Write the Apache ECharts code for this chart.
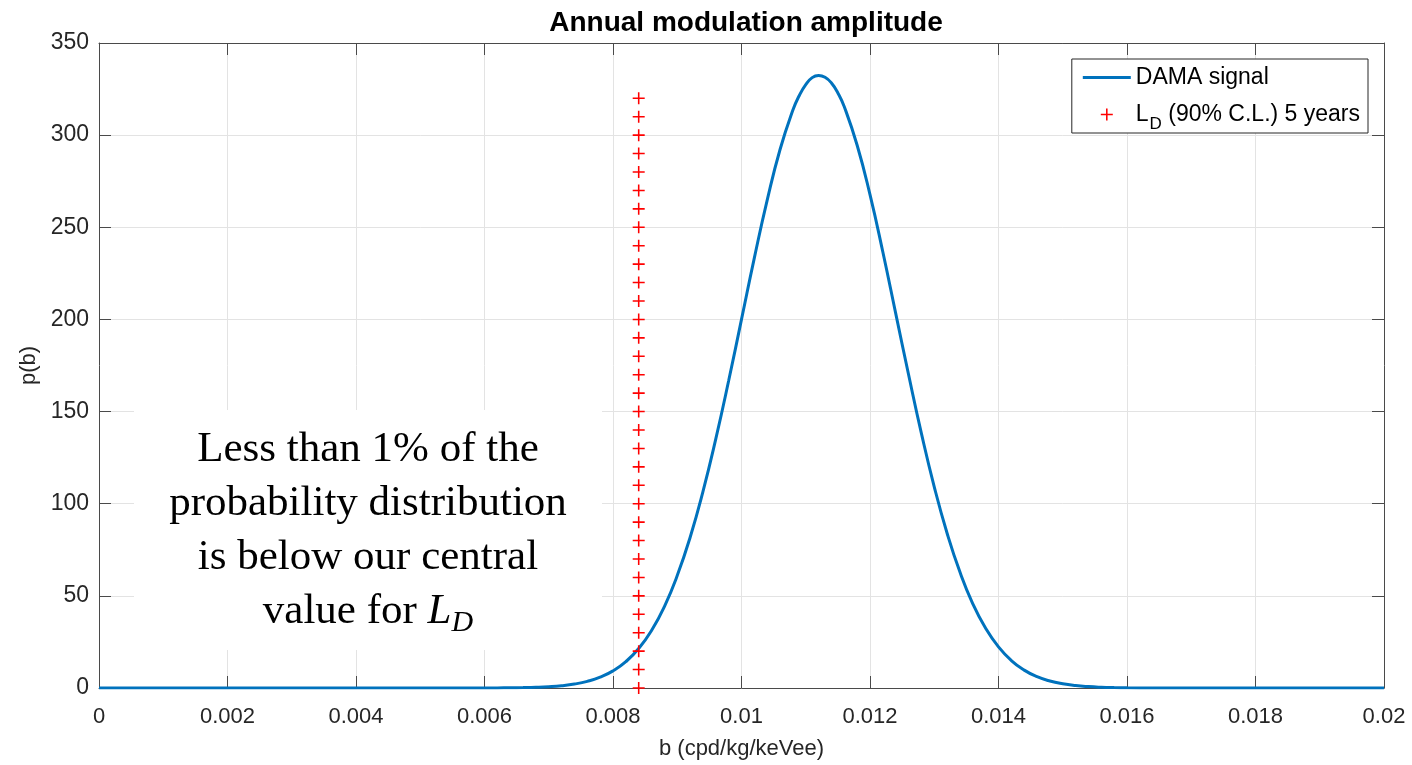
<!DOCTYPE html>
<html>
<head>
<meta charset="utf-8">
<script src="https://cdn.jsdelivr.net/npm/echarts@6/dist/echarts.min.js"></script>
<style>
html,body{margin:0;padding:0;background:#fff;}
#chart{width:1412px;height:765px;}
</style>
</head>
<body>
<div id="chart"></div>
<script>
// ---- data ----
const titleText = 'Annual modulation amplitude';
const xAxisName = 'b (cpd/kg/keVee)';
const yAxisName = 'p(b)';
const seriesNames = ['DAMA signal', 'L_D (90% C.L.) 5 years'];

// DAMA signal curve: b values and p(b) values
const bValues = [0, 0.002, 0.004, 0.005, 0.0055, 0.0060, 0.0062, 0.0064, 0.0066, 0.0068, 0.0070, 0.0072, 0.0074, 0.0076, 0.0078,
  0.0080, 0.0082, 0.0084, 0.0086, 0.0088, 0.0090, 0.0092, 0.0094, 0.0096, 0.0098,
  0.0100, 0.0102, 0.0104, 0.0106, 0.0108, 0.0109, 0.0110, 0.0111, 0.0112, 0.0113, 0.0114, 0.0115, 0.0116, 0.0118,
  0.0120, 0.0122, 0.0124, 0.0126, 0.0128, 0.0130, 0.0132, 0.0134, 0.0136, 0.0138,
  0.0140, 0.0142, 0.0144, 0.0146, 0.0148, 0.0150, 0.0152, 0.0154, 0.0156, 0.0158,
  0.0160, 0.0164, 0.0170, 0.0180, 0.0200];
const pValues = [0, 0, 0, 0, 0.003, 0.027, 0.055, 0.11, 0.21, 0.39, 0.71, 1.25, 2.15, 3.6, 5.86,
  9.28, 14.3, 21.4, 31.2, 44.2, 61.0, 81.7, 106.6, 135.2, 166.7,
  200.0, 233.4, 264.7, 292.2, 313.6, 321.5, 327.4, 331.2, 332.4, 331.4, 328.3, 322.9, 315.4, 294.5,
  267.7, 236.6, 203.3, 170.1, 138.2, 109.2, 84.0, 62.9, 45.7, 32.4,
  22.3, 14.9, 9.71, 6.15, 3.78, 2.27, 1.32, 0.75, 0.41, 0.22,
  0.115, 0.03, 0.002, 0, 0];

// L_D markers (vertical column of crosses)
const ldValue = 0.0084;
const ldMarkerHeights = [0, 10, 20, 30, 40, 50, 60, 70, 80, 90, 100, 110, 120, 130, 140, 150, 160,
  170, 180, 190, 200, 210, 220, 230, 240, 250, 260, 270, 280, 290, 300, 310, 320];

// axis ticks
const xTicks = [0, 0.002, 0.004, 0.006, 0.008, 0.01, 0.012, 0.014, 0.016, 0.018, 0.02];
const yTicks = [0, 50, 100, 150, 200, 250, 300, 350];

const annotationLines = ['Less than 1% of the', 'probability distribution', 'is below our central', 'value for '];

// ---- chart ----
const axisColor = '#4a4a4a';
const textColor = '#262626';
const gridColor = '#e3e3e3';
const sansFont = '"Liberation Sans", Arial, Helvetica, sans-serif';
const serifFont = '"Liberation Serif", "Times New Roman", serif';
const plusPath = 'path://M4.35,0h1.3v10h-1.3z M0,4.35h10v1.3h-10z';

const curveData = bValues.map((b, i) => [b, pValues[i]]);
const ldData = ldMarkerHeights.map(h => [ldValue, h]);

const fmtX = v => {
  const hit = xTicks.find(t => Math.abs(t - v) < 1e-9);
  return hit === undefined ? '' : String(hit);
};

const chart = echarts.init(document.getElementById('chart'), null, {renderer: 'canvas'});
chart.setOption({
  animation: false,
  backgroundColor: '#ffffff',
  title: {
    text: titleText,
    left: 741,
    textAlign: 'center',
    top: 4,
    textStyle: {fontFamily: sansFont, fontSize: 28, fontWeight: 'bold', color: '#000'}
  },
  grid: {left: 99, right: 28, top: 43, bottom: 77, containLabel: false},
  legend: {
    orient: 'vertical',
    right: 44,
    top: 59,
    padding: [7, 8, 0, 11],
    itemGap: 14,
    itemWidth: 48,
    itemHeight: 12,
    backgroundColor: '#ffffff',
    borderColor: '#262626',
    borderWidth: 1,
    borderRadius: 0,
    z: 10,
    data: [
      {name: seriesNames[0], icon: 'path://M0,0h48v3h-48z', itemStyle: {color: '#0072BD'}},
      {name: seriesNames[1], icon: plusPath, itemStyle: {color: '#ff0000'}}
    ],
    formatter: function (name) {
      if (name === seriesNames[0]) return '{n|' + name + '}';
      return '{n|L}{s|D}{n| (90% C.L.) 5 years}';
    },
    textStyle: {
      fontFamily: sansFont, fontSize: 23, color: '#000',
      rich: {
        n: {fontFamily: sansFont, fontSize: 23, color: '#000', lineHeight: 26},
        s: {fontFamily: sansFont, fontSize: 17, color: '#000', padding: [20, 0, 0, 1]}
      }
    }
  },
  xAxis: [{
    type: 'value', min: 0, max: 0.02, interval: 0.002, position: 'bottom',
    name: xAxisName, nameLocation: 'middle', nameGap: 50,
    nameTextStyle: {fontFamily: sansFont, fontSize: 22, color: textColor},
    axisLine: {show: true, onZero: false, lineStyle: {color: axisColor, width: 1}},
    axisTick: {show: true, inside: true, length: 12, lineStyle: {color: axisColor}},
    axisLabel: {show: true, margin: 18, fontFamily: sansFont, fontSize: 22, color: textColor, formatter: fmtX},
    splitLine: {show: true, lineStyle: {color: gridColor, width: 1}}
  }, {
    type: 'value', min: 0, max: 0.02, interval: 0.002, position: 'top',
    axisLine: {show: true, onZero: false, lineStyle: {color: axisColor, width: 1}},
    axisTick: {show: true, inside: true, length: 12, lineStyle: {color: axisColor}},
    axisLabel: {show: false},
    splitLine: {show: false}
  }],
  yAxis: [{
    type: 'value', min: 0, max: 350, interval: 50, position: 'left',
    name: yAxisName, nameLocation: 'middle', nameGap: 52,
    nameTextStyle: {fontFamily: sansFont, fontSize: 22, color: textColor},
    axisLine: {show: true, onZero: false, lineStyle: {color: axisColor, width: 1}},
    axisTick: {show: true, inside: true, length: 12, lineStyle: {color: axisColor}},
    axisLabel: {show: true, margin: 10, fontFamily: sansFont, fontSize: 23, color: textColor,
      formatter: v => yTicks.indexOf(v) >= 0 ? String(v) : ''},
    splitLine: {show: true, lineStyle: {color: gridColor, width: 1}}
  }, {
    type: 'value', min: 0, max: 350, interval: 50, position: 'right',
    axisLine: {show: true, onZero: false, lineStyle: {color: axisColor, width: 1}},
    axisTick: {show: true, inside: true, length: 12, lineStyle: {color: axisColor}},
    axisLabel: {show: false},
    splitLine: {show: false}
  }],
  graphic: [{
    type: 'group',
    z: 1,
    children: [{
      type: 'rect',
      shape: {x: 134, y: 410, width: 468, height: 240},
      style: {fill: '#ffffff'},
      z: 1
    }, {
      type: 'text',
      x: 368,
      y: 531,
      z: 1,
      style: {
        text: '{a|' + annotationLines[0] + '}\n{a|' + annotationLines[1] + '}\n{a|' + annotationLines[2] + '}\n{a|' + annotationLines[3] + '}{i|L}{d|D}',
        align: 'center',
        verticalAlign: 'middle',
        fill: '#000',
        rich: {
          a: {fontFamily: serifFont, fontSize: 43, lineHeight: 54, fill: '#000'},
          i: {fontFamily: serifFont, fontStyle: 'italic', fontSize: 43, lineHeight: 54, fill: '#000'},
          d: {fontFamily: serifFont, fontStyle: 'italic', fontSize: 30, padding: [22, 0, 0, 0], fill: '#000'}
        }
      }
    }]
  }],
  series: [{
    name: seriesNames[0],
    type: 'line',
    data: curveData,
    smooth: 0.5,
    showSymbol: false,
    symbol: 'none',
    lineStyle: {color: '#0072BD', width: 3},
    itemStyle: {color: '#0072BD'},
    z: 3
  }, {
    name: seriesNames[1],
    type: 'scatter',
    data: ldData,
    symbol: plusPath,
    symbolSize: 12,
    itemStyle: {color: '#ff0000', opacity: 1},
    z: 4
  }]
});
</script>
</body>
</html>
